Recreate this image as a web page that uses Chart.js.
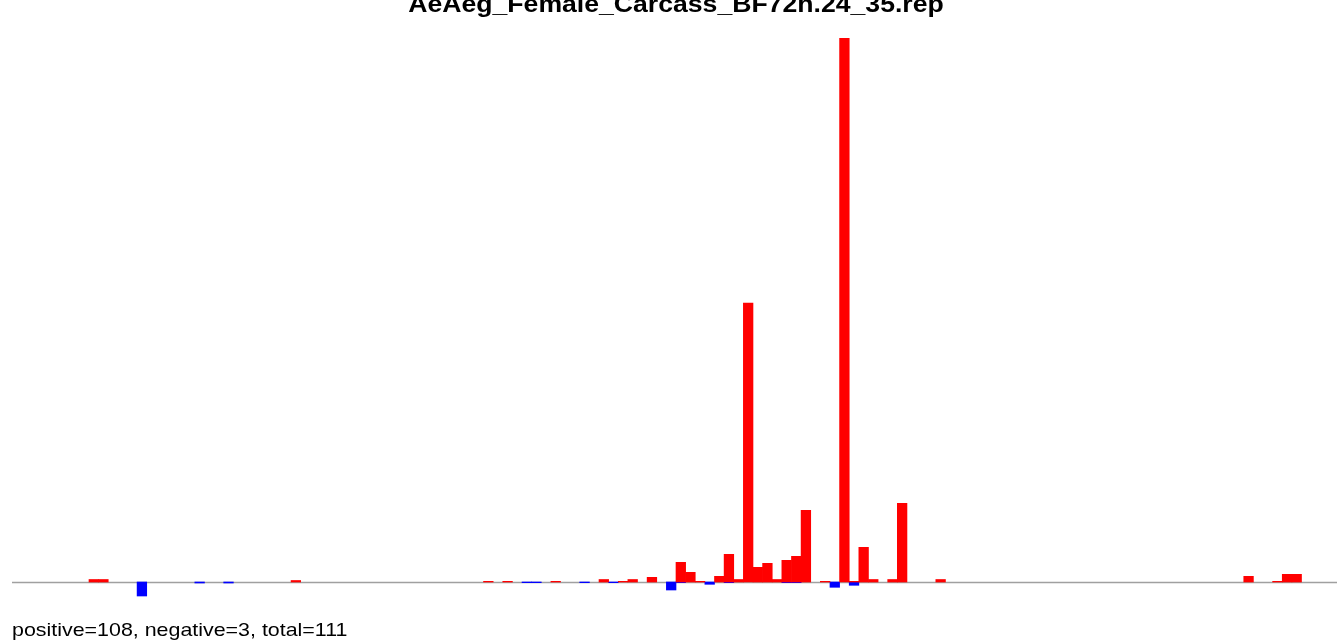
<!DOCTYPE html>
<html>
<head>
<meta charset="utf-8">
<title>AeAeg_Female_Carcass_BF72h.24_35.rep</title>
<script src="https://cdn.jsdelivr.net/npm/chart.js@4/dist/chart.umd.min.js"></script>
<style>
  html, body { margin: 0; padding: 0; background: #fff; overflow: hidden; }
  #chart { display: block; }
</style>
</head>
<body>
<canvas id="chart" width="1340" height="641"></canvas>
<script>
// data, one value per bin (138 bins)
var chartTitle = 'AeAeg_Female_Carcass_BF72h.24_35.rep';
var summaryText = 'positive=108, negative=3, total=111';

var positiveValues = [
  0, 0, 0, 0, 0, 0, 0, 0, 2.5, 2.5,          // 0-9
  0, 0, 0, 0, 0, 0, 0, 0, 0, 0,              // 10-19
  0, 0, 0, 0, 0, 0, 0, 0, 0, 1.5,            // 20-29
  0, 0, 0, 0, 0, 0, 0, 0, 0, 0,              // 30-39
  0, 0, 0, 0, 0, 0, 0, 0, 0, 0.7,            // 40-49
  0, 0.7, 0, 0, 0, 0, 0.7, 0, 0, 0,          // 50-59
  0, 2.5, 0, 0.7, 2.5, 0, 4.7, 0, 0, 19.7,   // 60-69
  9.7, 0.7, 0, 5.7, 27.7, 2.5, 279, 14.7, 18.7, 2.5,   // 70-79
  21.7, 25.7, 71.7, 0, 0.7, 0, 544, 0.7, 34.7, 2.5,    // 80-89
  0, 2.5, 78.7, 0, 0, 0, 2.5, 0, 0, 0,       // 90-99
  0, 0, 0, 0, 0, 0, 0, 0, 0, 0,              // 100-109
  0, 0, 0, 0, 0, 0, 0, 0, 0, 0,              // 110-119
  0, 0, 0, 0, 0, 0, 0, 0, 5.7, 0,            // 120-129
  0, 0.7, 7.7, 7.7, 0, 0, 0, 0               // 130-137
];

var negativeValues = [
  0, 0, 0, 0, 0, 0, 0, 0, 0, 0,
  0, 0, 0, -14, 0, 0, 0, 0, 0, -1,
  0, 0, -1, 0, 0, 0, 0, 0, 0, 0,
  0, 0, 0, 0, 0, 0, 0, 0, 0, 0,
  0, 0, 0, 0, 0, 0, 0, 0, 0, 0,
  0, 0, 0, -0.7, -0.7, 0, 0, 0, 0, -0.7,
  0, 0, -0.7, 0, 0, 0, 0, 0, -8, -0.7,
  0, 0, -2.3, 0, -0.7, 0, 0, 0, 0, 0,
  -0.7, -0.7, 0, 0, 0, -5.3, 0, -3.3, 0, 0,
  0, 0, 0, 0, 0, 0, 0, 0, 0, 0,
  0, 0, 0, 0, 0, 0, 0, 0, 0, 0,
  0, 0, 0, 0, 0, 0, 0, 0, 0, 0,
  0, 0, 0, 0, 0, 0, 0, 0, 0, 0,
  0, 0, 0, 0, 0, 0, 0, 0
];

var categories = [];
for (var i = 0; i < positiveValues.length; i++) {
  categories.push(String(i + 1));
}

// empty bins are left out so they don't paint over the zero line
function dropZeros(arr) {
  return arr.map(function(v) { return v === 0 ? null : v; });
}

// stretched text, the original output is a bit wider than Liberation Sans
function wideText(ctx, text, x, y, align, sx) {
  ctx.save();
  ctx.translate(x, y);
  ctx.scale(sx, 1);
  ctx.textAlign = align;
  ctx.fillText(text, 0, 0);
  ctx.restore();
}

// zero line under the bars, title and summary text
var decorations = {
  id: 'decorations',
  beforeDatasetsDraw: function(chart) {
    var ctx = chart.ctx;
    var y = chart.scales.y.getPixelForValue(0);
    ctx.save();
    ctx.strokeStyle = '#a0a0a0';
    ctx.lineWidth = 1.7;
    ctx.beginPath();
    ctx.moveTo(chart.chartArea.left, y + 0.5);
    ctx.lineTo(chart.chartArea.right, y + 0.5);
    ctx.stroke();
    ctx.restore();
  },
  afterDraw: function(chart) {
    var ctx = chart.ctx;
    ctx.save();
    ctx.fillStyle = '#000';
    ctx.textBaseline = 'alphabetic';
    ctx.font = 'bold 23px "Liberation Sans", Arial, sans-serif';
    wideText(ctx, chartTitle, 676, 11.5, 'center', 1.157);
    ctx.font = '18.5px "Liberation Sans", Arial, sans-serif';
    wideText(ctx, summaryText, 12, 636, 'left', 1.157);
    ctx.restore();
  }
};

var chart = new Chart(document.getElementById('chart'), {
  type: 'bar',
  data: {
    labels: categories,
    datasets: [{
      label: 'positive',
      data: dropZeros(positiveValues),
      backgroundColor: '#ff0000',
      borderWidth: 0,
      barPercentage: 1,
      categoryPercentage: 1
    }, {
      label: 'negative',
      data: dropZeros(negativeValues),
      backgroundColor: '#0000ff',
      borderWidth: 0,
      barPercentage: 1,
      categoryPercentage: 1
    }]
  },
  options: {
    responsive: false,
    animation: false,
    layout: { padding: { left: 12, right: 0, top: 38, bottom: 1 } },
    plugins: {
      legend: { display: false },
      title: { display: false }
    },
    scales: {
      x: { stacked: true, display: false },
      y: { stacked: true, display: false, min: -58, max: 544 }
    }
  },
  plugins: [decorations]
});
</script>
</body>
</html>
